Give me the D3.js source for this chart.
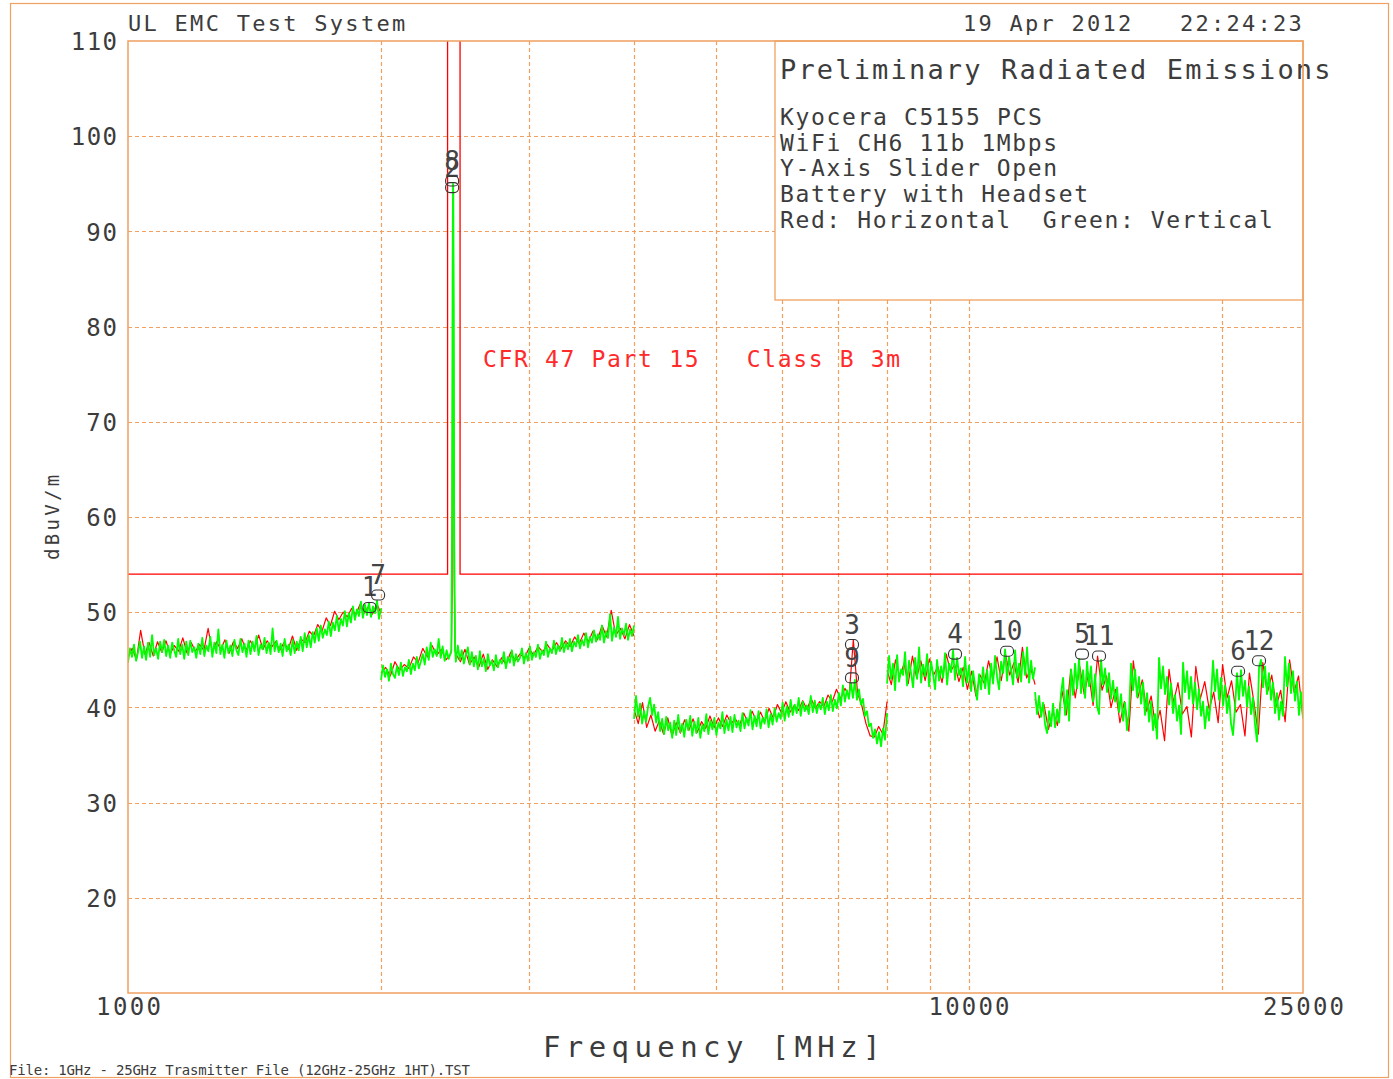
<!DOCTYPE html>
<html><head><meta charset="utf-8">
<script src="https://cdn.jsdelivr.net/npm/d3@7"></script>
<style>html,body{margin:0;padding:0;background:#fff;} text{white-space:pre;}</style>
</head><body>
<svg id="chart" width="1393" height="1079"></svg>
<script>
// ---------------- data ----------------
const yTickValues = [20,30,40,50,60,70,80,90,100,110];
const yGridValues = [20,30,40,50,60,70,80,90,100];
const xTickValues = [1000,10000,25000];
const xGridValues = [2000,3000,4000,5000,6000,7000,8000,9000,10000,20000];

// FCC limit (CFR 47 Part 15 Class B 3m), restricted-band notch open at top
const limitFreq  = [1000,2400,2400,2483.5,2483.5,25000];
const limitLevel = [54,54,130,130,54,54];

// sweep bands [start MHz, stop MHz]
const bandA  = [1000,2000];
const bandB1 = [2000,2420];
const bandB2 = [2455,4000];
const bandC  = [4000,8000];
const bandD  = [8000,12000];
const bandE  = [12000,25000];

// carrier peak (explicit frequencies)
const peakFreq  = [2425,2430,2433,2436,2438,2441,2444,2450];
const peakGreen = [46,60,85,95,94,82,58,46];
const peakRed   = [46,52,75,93.5,92,70,54,46];

// Green: Vertical polarisation (dBuV/m)
const greenA = [44.7,46.2,45.3,46.6,44.9,45.8,46.9,45.2,46.4,45.0,
  46.8,45.3,47.6,45.5,46.2,45.1,46.9,45.8,47.1,45.4,
  46.5,45.2,46.8,46.0,45.3,47.2,45.6,46.6,45.1,46.9,
  45.5,47.0,45.8,46.3,45.2,46.7,45.6,47.3,45.4,46.5,
  45.9,47.4,45.3,46.8,45.7,48.2,45.6,46.6,45.2,47.0,
  45.7,46.5,45.4,47.1,46.0,45.5,47.2,45.8,46.7,45.3,
  47.0,45.6,46.9,45.9,47.5,45.5,46.6,46.1,47.3,45.7,
  46.8,45.6,48.3,45.9,47.0,45.8,46.7,45.4,47.2,45.9,
  46.6,45.5,47.1,45.7,46.9,46.0,47.4,45.9,47.8,46.3,
  47.6,46.3,47.9,46.8,48.3,47.0,48.6,47.3,48.2,47.6,
  49.0,47.5,48.9,48.1,49.6,48.0,49.3,48.6,50.1,48.5,
  49.9,48.9,50.6,49.2,50.3,49.6,51.1,49.4,50.8,49.7,
  51.0,49.5,50.6,49.9,51.2,49.3,50.4];
const greenB1 = [42.9,44.4,43.2,44.0,42.8,44.6,43.5,43.1,44.3,43.4,
  44.7,43.3,44.2,43.8,45.0,43.5,44.6,43.9,45.3,44.1,
  44.8,45.6,44.5,46.3,45.0,46.8,45.3,46.1,45.4,47.2,
  45.2,46.4,44.9,46.0,45.1,45.7];
const greenB2 = [44.8,46.5,45.0,46.0,44.6,45.5,46.3,44.5,45.8,44.3,
  45.4,44.0,45.9,44.3,45.1,43.8,45.6,44.4,44.9,43.9,
  45.5,44.2,45.0,44.6,45.8,44.1,45.3,44.7,46.0,44.4,
  45.6,44.8,45.2,46.2,44.6,45.7,44.9,46.4,45.0,45.8,
  45.3,46.6,45.1,46.0,45.5,46.9,45.3,46.2,45.7,47.0,
  45.6,46.5,45.9,47.3,45.8,46.8,46.1,47.2,45.9,46.9,
  46.4,47.6,46.2,47.1,46.5,47.8,46.3,47.4,46.8,48.1,
  46.9,47.7,47.1,48.6,46.8,48.0,47.3,49.8,47.0,48.4,
  47.4,49.5,47.2,48.3,47.6,48.8,47.1,48.2,47.5,48.6];
const greenC = [38.8,41.2,39.0,40.4,38.3,39.6,38.5,40.1,41.0,39.2,
  40.3,38.4,39.5,37.5,38.8,37.2,39.0,37.6,38.4,36.8,
  38.6,37.1,39.2,37.4,38.3,36.9,38.7,37.6,39.1,37.0,
  38.5,37.3,38.9,36.8,38.2,37.5,39.3,37.2,38.6,37.7,
  38.9,37.1,38.4,37.8,39.5,37.3,38.7,37.6,39.0,37.4,
  39.2,37.9,38.6,37.5,39.4,37.8,38.9,38.1,39.7,37.7,
  39.1,38.0,39.6,37.8,38.9,38.3,39.8,37.9,39.3,38.2,
  39.9,38.5,39.4,38.8,40.5,38.6,40.1,39.0,40.8,39.2,
  40.3,39.4,41.0,39.1,40.6,39.6,40.2,39.3,41.2,39.5,
  40.7,39.4,40.4,39.8,41.0,39.3,40.6,39.7,41.3,39.6,
  40.8,39.9,41.5,40.2,42.3,40.6,41.8,40.9,42.6,41.0,
  42.9,40.8,41.9,40.3,40.9,39.1,39.6,38.0,38.3,36.8,
  37.7,36.2,37.4,35.9,37.8,36.6,39.4];
const greenD = [42.5,45.4,43.0,44.6,41.8,45.5,42.7,44.0,43.4,45.8,
  42.3,44.9,43.6,42.1,45.2,43.0,46.3,42.6,44.5,43.3,
  45.6,42.2,44.8,43.5,41.9,45.0,42.8,44.3,43.1,45.7,
  42.4,44.6,43.7,46.0,42.9,45.2,43.4,44.1,42.2,45.3,
  42.6,44.4,41.7,43.8,42.3,40.8,43.5,41.9,44.2,42.0,
  43.9,41.4,44.6,42.5,45.4,43.2,41.9,44.8,43.6,46.1,
  42.8,45.3,43.9,42.4,46.0,43.1,44.6,42.7,45.8,43.4,
  46.3,42.6,44.9,43.0,44.2];
const greenE = [41.6,39.3,41.2,39.0,40.5,38.2,37.3,39.6,38.0,40.4,
  37.9,39.8,38.4,41.5,43.1,39.2,41.8,38.6,44.0,41.3,
  44.6,42.0,45.1,41.5,43.9,41.0,44.8,42.2,44.3,40.6,
  43.5,40.1,39.3,45.0,42.4,44.1,41.6,43.6,40.9,42.8,
  40.6,42.1,39.5,41.4,38.6,40.5,37.6,39.4,44.6,41.8,
  44.0,41.1,43.2,40.4,42.6,39.2,41.5,38.5,40.6,37.6,
  39.3,36.7,45.2,42.0,44.3,41.4,43.2,40.3,42.5,39.4,
  41.3,38.6,40.2,37.2,44.7,41.6,43.8,40.9,43.2,40.4,
  42.6,39.8,41.9,39.1,40.6,37.8,40.1,38.6,41.0,44.9,
  41.7,44.0,40.8,43.1,40.2,42.3,39.4,41.2,38.3,37.1,
  40.0,43.6,40.8,43.9,41.2,42.8,40.1,42.2,39.3,41.0,
  38.2,36.4,44.2,45.0,42.1,44.3,41.4,43.6,40.8,42.6,
  39.4,41.5,38.7,40.6,39.1,45.3,42.2,44.6,41.5,43.8,
  40.7,42.7,39.2,41.6,38.8];

// Red: Horizontal polarisation (dBuV/m)
const redA = [45.3,46.2,45.0,48.1,45.6,46.8,45.4,46.9,45.8,47.0,
  45.6,46.5,45.9,47.3,45.7,46.8,45.9,46.6,46.0,48.3,
  45.8,46.9,46.1,47.1,45.7,46.9,46.2,47.2,46.0,47.0,
  46.2,47.6,46.1,47.0,46.3,46.9,46.0,46.8,46.1,47.5,
  46.0,47.2,46.8,48.0,47.5,48.7,48.0,49.4,48.6,50.1,
  49.2,50.0,49.5,50.4,49.7,50.8,49.9,50.6,49.8,50.9,49.9];
const redB1 = [43.6,44.2,43.3,44.8,43.9,44.5,44.1,45.3,44.7,46.2,45.3,46.5,45.5,46.1,45.0,45.6];
const redB2 = [45.6,44.8,46.1,44.5,45.3,44.2,45.6,44.0,45.0,44.3,
  45.2,44.5,45.8,44.9,45.6,45.2,46.2,45.5,46.4,45.8,
  46.6,45.9,46.8,46.1,47.0,46.4,47.4,46.7,47.8,46.9,
  48.0,47.1,48.6,47.4,50.2,47.6,48.3,47.2,48.7,47.5];
const redC = [39.8,38.3,40.5,37.9,39.2,37.5,38.6,37.2,38.9,37.0,
  38.4,37.3,38.7,37.6,38.8,37.4,38.5,37.8,39.1,37.9,
  38.9,38.0,39.2,38.3,38.8,38.1,39.4,38.4,39.6,38.6,
  39.5,38.5,39.9,38.9,40.3,39.4,40.6,39.5,40.2,39.7,
  40.7,39.8,40.9,39.9,40.6,40.1,41.3,40.6,41.9,40.9,
  42.0,41.2,47.1,41.5,40.2,38.3,37.0,36.9,38.0,37.2,40.6];
const redD = [43.9,42.4,45.0,43.2,44.6,42.5,45.4,43.1,44.9,42.8,
  45.1,43.4,44.3,42.6,45.6,43.8,44.5,42.7,44.2,41.9,
  43.8,41.2,43.4,42.5,44.9,43.0,45.3,42.8,45.6,43.4,
  44.7,42.6,46.3,43.1,44.1,42.4];
const redE = [40.9,38.9,40.3,37.7,39.6,38.1,41.8,39.2,44.0,41.0,
  44.3,41.4,43.6,40.2,45.4,41.8,43.3,40.0,41.9,38.4,
  40.6,37.5,44.9,41.0,42.9,39.6,41.2,37.9,39.7,36.5,
  44.0,40.5,42.6,39.3,40.1,36.9,44.3,40.9,42.7,39.8,
  41.6,38.4,44.5,41.0,42.8,39.5,40.3,37.0,43.6,40.6,
  37.2,44.7,41.5,43.4,40.1,41.8,38.5,45.0,41.6,43.3,38.9];

// final-measurement markers
const markerIds   = ["1","7","2","8","3","9","4","10","5","11","6","12"];
const markerFreq  = [1938,1984,2430,2430,7267,7267,9637,11112,13646,14297,20925,22162];
const markerLevel = [50.5,51.8,94.6,95.3,46.6,43.1,45.6,45.9,45.6,45.4,43.8,44.9];

// texts
const infoTitle = "Preliminary Radiated Emissions";
const infoLines = ["Kyocera C5155 PCS","WiFi CH6 11b 1Mbps","Y-Axis Slider Open","Battery with Headset","Red: Horizontal  Green: Vertical"];

// ---------------- drawing ----------------
const FONT = "'DejaVu Sans Mono', 'Liberation Mono', monospace";
const TXT = "#3c3c3c";
const ORANGE = "#f0a060";
const svg = d3.select("#chart");

const x = d3.scaleLog().domain([1000,25000]).range([128,1303]);
const y = d3.scaleLinear().domain([10,110]).range([993,41]);

function mono(sel, perChar){
  sel.each(function(){
    const n = this.textContent.length;
    d3.select(this).attr("textLength", n*perChar).attr("lengthAdjust","spacing");
  });
  return sel;
}

// outer frame
svg.append("rect").attr("x",10.5).attr("y",3.5).attr("width",1378).attr("height",1074)
  .attr("fill","none").attr("stroke",ORANGE).attr("stroke-width",1.2);

// grid
const grid = svg.append("g").attr("stroke",ORANGE).attr("stroke-width",1.2).attr("stroke-dasharray","4,3");
grid.selectAll("line.h").data(yGridValues).join("line").attr("class","h")
  .attr("x1",128).attr("x2",1303).attr("y1",d=>Math.round(y(d))+0.5).attr("y2",d=>Math.round(y(d))+0.5);
grid.selectAll("line.v").data(xGridValues).join("line").attr("class","v")
  .attr("x1",d=>Math.round(x(d))+0.5).attr("x2",d=>Math.round(x(d))+0.5).attr("y1",41).attr("y2",993);

// info box
svg.append("rect").attr("x",775).attr("y",41).attr("width",528).attr("height",259)
  .attr("fill","#fff").attr("stroke",ORANGE).attr("stroke-width",1.3);
svg.append("text").attr("x",780).attr("y",79).attr("font-family",FONT).attr("font-size",27)
  .attr("fill",TXT).text(infoTitle).call(mono,18.35);
svg.selectAll("text.info").data(infoLines).join("text").attr("class","info")
  .attr("x",780).attr("y",(d,i)=>125+i*25.7).attr("font-family",FONT).attr("font-size",23)
  .attr("fill",TXT).text(d=>d).call(mono,15.4);

// clip
svg.append("clipPath").attr("id","plotclip").append("rect").attr("x",128).attr("y",41).attr("width",1175).attr("height",952);
const plot = svg.append("g").attr("clip-path","url(#plotclip)");

// limit line
const line = d3.line().x(d=>x(d[0])).y(d=>y(d[1]));
plot.append("path").datum(limitFreq.map((f,i)=>[f,limitLevel[i]]))
  .attr("d",line).attr("fill","none").attr("stroke","#ff0000").attr("stroke-width",1.3);

// sweep points: log-spaced frequencies between band edges
function sweep(band, vals){
  const n = vals.length;
  return vals.map((v,i)=>[band[0]*Math.pow(band[1]/band[0], i/(n-1)), v]);
}
function series(A,B1,PK,B2,C,D,E){
  return [
    sweep(bandA,A),
    sweep(bandB1,B1).concat(peakFreq.map((f,i)=>[f,PK[i]])).concat(sweep(bandB2,B2)),
    sweep(bandC,C),
    sweep(bandD,D),
    sweep(bandE,E)
  ];
}
const redSeries = series(redA,redB1,peakRed,redB2,redC,redD,redE);
const greenSeries = series(greenA,greenB1,peakGreen,greenB2,greenC,greenD,greenE);

plot.selectAll("path.red").data(redSeries).join("path").attr("class","red")
  .attr("d",line).attr("fill","none").attr("stroke","#ff0000").attr("stroke-width",1.2).attr("stroke-linejoin","round");
plot.selectAll("path.green").data(greenSeries).join("path").attr("class","green")
  .attr("d",line).attr("fill","none").attr("stroke","#00ff00").attr("stroke-width",1.8).attr("stroke-linejoin","round");

// plot frame
svg.append("rect").attr("x",128).attr("y",41).attr("width",1175).attr("height",952)
  .attr("fill","none").attr("stroke",ORANGE).attr("stroke-width",1.5);

// limit label
svg.append("text").attr("x",483).attr("y",367).attr("font-family",FONT).attr("font-size",23)
  .attr("fill","#ff2a2a").text("CFR 47 Part 15   Class B 3m").call(mono,15.45);

// markers
const mk = svg.append("g");
markerIds.forEach((id,i)=>{
  const cx = x(markerFreq[i]), cy = y(markerLevel[i]);
  mk.append("rect").attr("x",cx-6.5).attr("y",cy-5).attr("width",13).attr("height",10).attr("rx",4.5)
    .attr("fill","none").attr("stroke","#333").attr("stroke-width",1.1);
  mk.append("text").attr("x",cx).attr("y",cy-11).attr("text-anchor","middle")
    .attr("font-family",FONT).attr("font-size",26).attr("fill","#444").text(id).call(mono,15.5);
});

// axes
const yAxis = d3.axisLeft(y).tickValues(yTickValues).tickSize(0).tickPadding(11).tickFormat(d3.format("d"));
svg.append("g").attr("transform","translate(128,0)").call(yAxis)
  .call(g=>g.select(".domain").remove())
  .selectAll("text").attr("font-family",FONT).attr("font-size",24).attr("fill",TXT)
  .attr("dy","0.36em").call(mono,15.4);
const xAxis = d3.axisBottom(x).tickValues(xTickValues).tickSize(0).tickPadding(5).tickFormat(d3.format("d"));
svg.append("g").attr("transform","translate(0,993)").call(xAxis)
  .call(g=>g.select(".domain").remove())
  .selectAll("text").attr("font-family",FONT).attr("font-size",24).attr("fill",TXT).call(mono,16.2);

// titles
svg.append("text").attr("x",128).attr("y",31).attr("font-family",FONT).attr("font-size",22)
  .attr("fill",TXT).text("UL EMC Test System").call(mono,15.4);
svg.append("text").attr("x",963).attr("y",31).attr("font-family",FONT).attr("font-size",22)
  .attr("fill",TXT).text("19 Apr 2012   22:24:23").call(mono,15.4);
svg.append("text").attr("x",543).attr("y",1057).attr("font-family",FONT).attr("font-size",29)
  .attr("fill",TXT).text("Frequency [MHz]").call(mono,22.5);
svg.append("text").attr("transform","translate(59,560) rotate(-90)").attr("font-family",FONT).attr("font-size",19)
  .attr("fill",TXT).text("dBuV/m").call(mono,14.2);
svg.append("text").attr("x",9).attr("y",1075).attr("font-family",FONT).attr("font-size",14)
  .attr("fill",TXT).text("File: 1GHz - 25GHz Trasmitter File (12GHz-25GHz 1HT).TST").call(mono,8.23);
</script>
</body></html>
